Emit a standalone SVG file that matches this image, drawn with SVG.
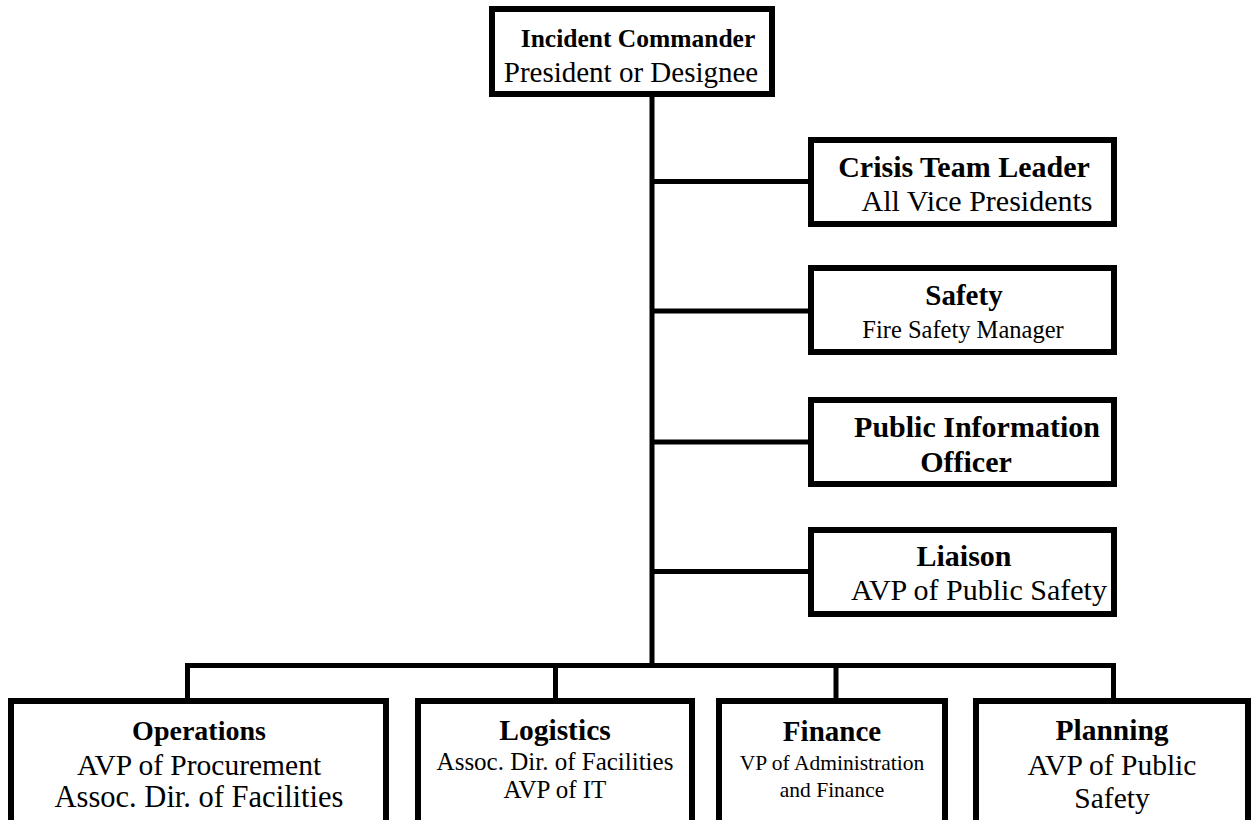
<svg xmlns="http://www.w3.org/2000/svg" width="1251" height="820" viewBox="0 0 1251 820">
<style>
.box{fill:#fff;stroke:#000;stroke-width:6}
.ln{stroke:#000;stroke-width:5;fill:none}
text{font-family:"Liberation Serif","Times New Roman",serif;fill:#000;text-anchor:middle}
.b{font-weight:bold}
</style>
<rect width="1251" height="820" fill="#fff"/>
<g id="connectors">
<line class="ln" x1="652" y1="94" x2="652" y2="666"/>
<line class="ln" x1="652" y1="181.5" x2="811" y2="181.5"/>
<line class="ln" x1="652" y1="311" x2="811" y2="311"/>
<line class="ln" x1="652" y1="442" x2="811" y2="442"/>
<line class="ln" x1="652" y1="571.5" x2="811" y2="571.5"/>
<line class="ln" x1="185" y1="665.5" x2="1116" y2="665.5"/>
<line class="ln" x1="187.5" y1="663" x2="187.5" y2="701"/>
<line class="ln" x1="555.5" y1="663" x2="555.5" y2="701"/>
<line class="ln" x1="836" y1="663" x2="836" y2="701"/>
<line class="ln" x1="1113.5" y1="663" x2="1113.5" y2="701"/>
</g>
<g id="incident-commander">
<rect class="box" x="492" y="9" width="280" height="85"/>
<text class="b" x="638" y="47" font-size="25.5">Incident Commander</text>
<text x="631" y="82" font-size="29">President or Designee</text>
</g>
<g id="crisis-team-leader">
<rect class="box" x="811" y="140" width="303" height="84"/>
<text class="b" x="964" y="177" font-size="30">Crisis Team Leader</text>
<text x="977" y="211" font-size="30">All Vice Presidents</text>
</g>
<g id="safety">
<rect class="box" x="811" y="268" width="303" height="84"/>
<text class="b" x="964" y="305" font-size="29">Safety</text>
<text x="963" y="338" font-size="24.5">Fire Safety Manager</text>
</g>
<g id="public-information-officer">
<rect class="box" x="811" y="400" width="303" height="84"/>
<text class="b" x="977" y="437" font-size="30">Public Information</text>
<text class="b" x="966" y="472" font-size="30">Officer</text>
</g>
<g id="liaison">
<rect class="box" x="811" y="530" width="303" height="84"/>
<text class="b" x="964" y="566" font-size="30">Liaison</text>
<text x="979" y="600" font-size="30">AVP of Public Safety</text>
</g>
<g id="operations">
<rect class="box" x="11" y="701" width="375" height="130"/>
<text class="b" x="199" y="740" font-size="28">Operations</text>
<text x="199" y="775" font-size="29.5">AVP of Procurement</text>
<text x="199" y="807" font-size="30.5">Assoc. Dir. of Facilities</text>
</g>
<g id="logistics">
<rect class="box" x="418" y="701" width="274" height="130"/>
<text class="b" x="555" y="740" font-size="29.5">Logistics</text>
<text x="555" y="770" font-size="25">Assoc. Dir. of Facilities</text>
<text x="555" y="798" font-size="25">AVP of IT</text>
</g>
<g id="finance">
<rect class="box" x="719" y="701" width="226" height="130"/>
<text class="b" x="832" y="741" font-size="29">Finance</text>
<text x="832" y="770" font-size="21.5">VP of Administration</text>
<text x="832" y="797" font-size="21.5">and Finance</text>
</g>
<g id="planning">
<rect class="box" x="976" y="701" width="272" height="130"/>
<text class="b" x="1112" y="740" font-size="29.5">Planning</text>
<text x="1112" y="775" font-size="29.5">AVP of Public</text>
<text x="1112" y="808" font-size="29.5">Safety</text>
</g>
</svg>
